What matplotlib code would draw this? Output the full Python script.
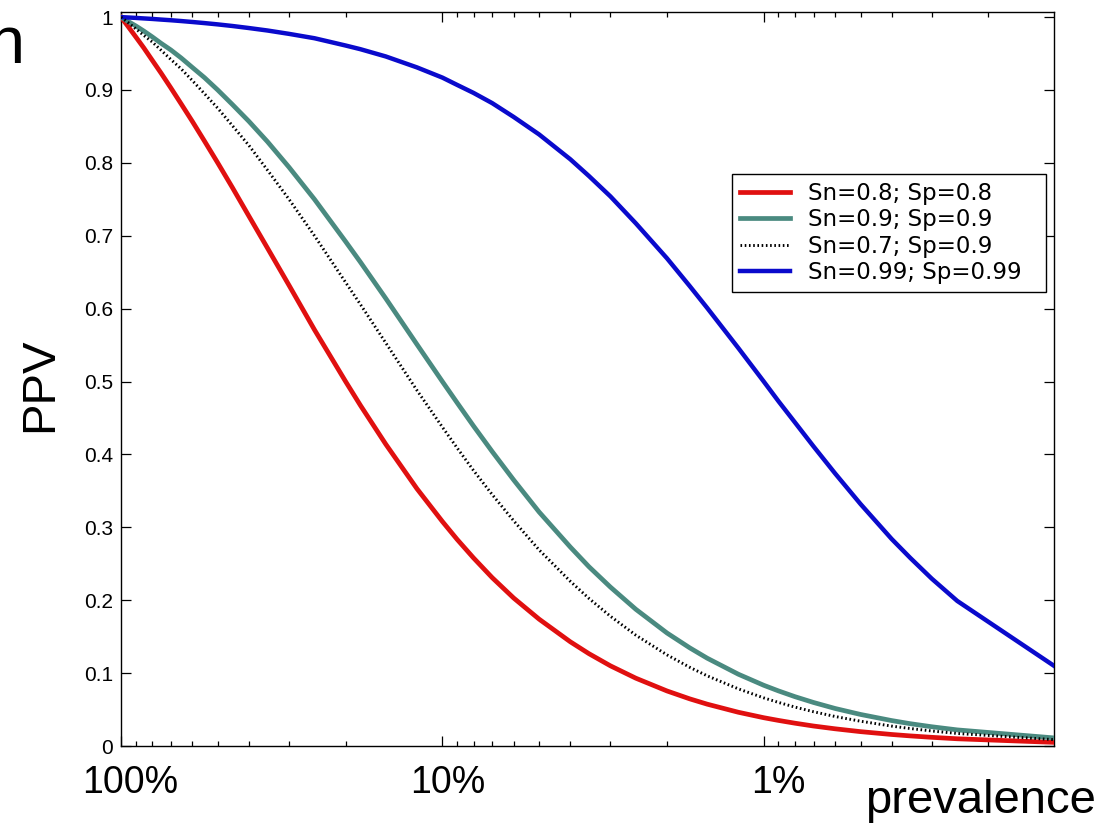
import matplotlib
matplotlib.use("Agg")
import matplotlib.pyplot as plt
from matplotlib.ticker import FixedLocator, FuncFormatter, NullFormatter, LogLocator

# prevalence (fraction) sample points read along the x axis
prevalence = [1.0, 0.95, 0.9, 0.85, 0.8, 0.75, 0.7, 0.65, 0.6, 0.55,
              0.5, 0.45, 0.4, 0.35, 0.3, 0.25, 0.2, 0.18, 0.15, 0.12,
              0.1, 0.09, 0.08, 0.07, 0.06, 0.05, 0.04, 0.035, 0.03, 0.025,
              0.02, 0.017, 0.015, 0.012, 0.01, 0.009, 0.008, 0.007, 0.006, 0.005,
              0.004, 0.0035, 0.003, 0.0025, 0.00125]

ppv_80_80 = [1.0, 0.987, 0.973, 0.958, 0.941, 0.923, 0.903, 0.881, 0.857, 0.830,
             0.800, 0.766, 0.727, 0.683, 0.632, 0.571, 0.500, 0.4675, 0.414, 0.353,
             0.308, 0.2835, 0.258, 0.231, 0.203, 0.174, 0.143, 0.1267, 0.110, 0.093,
             0.0755, 0.0647, 0.0574, 0.0463, 0.0388, 0.0351, 0.0313, 0.0274, 0.0236, 0.0197,
             0.0158, 0.01385, 0.0119, 0.0099, 0.0050]
ppv_90_90 = [1.0, 0.994, 0.988, 0.981, 0.973, 0.964, 0.955, 0.944, 0.931, 0.917,
             0.900, 0.880, 0.857, 0.829, 0.794, 0.750, 0.692, 0.664, 0.614, 0.551,
             0.500, 0.471, 0.439, 0.404, 0.365, 0.321, 0.273, 0.246, 0.218, 0.1875,
             0.155, 0.1347, 0.1205, 0.0985, 0.0833, 0.0756, 0.0677, 0.0597, 0.0515, 0.0433,
             0.0349, 0.0306, 0.0264, 0.0221, 0.0111]
ppv_70_90 = [1.0, 0.9925, 0.984, 0.975, 0.966, 0.9545, 0.942, 0.929, 0.913, 0.895,
             0.875, 0.851, 0.824, 0.790, 0.750, 0.700, 0.636, 0.606, 0.553, 0.488,
             0.4375, 0.409, 0.378, 0.345, 0.309, 0.269, 0.226, 0.2025, 0.178, 0.152,
             0.125, 0.108, 0.0963, 0.0784, 0.066, 0.0598, 0.0534, 0.047, 0.0405, 0.034,
             0.0273, 0.024, 0.0206, 0.0172, 0.0087]
ppv_99_99 = [1.0, 0.99947, 0.9989, 0.9982, 0.9975, 0.9966, 0.9957, 0.9946, 0.9933, 0.9918,
             0.990, 0.9878, 0.985, 0.9816, 0.977, 0.971, 0.961, 0.956, 0.946, 0.931,
             0.917, 0.907, 0.896, 0.882, 0.863, 0.839, 0.805, 0.782, 0.754, 0.717,
             0.669, 0.631, 0.601, 0.546, 0.500, 0.473, 0.444, 0.411, 0.374, 0.332,
             0.284, 0.258, 0.2295, 0.199, 0.110]

labels = ["Sn=0.8; Sp=0.8", "Sn=0.9; Sp=0.9", "Sn=0.7; Sp=0.9", "Sn=0.99; Sp=0.99"]
y_ticks = [0, 0.1, 0.2, 0.3, 0.4, 0.5, 0.6, 0.7, 0.8, 0.9, 1.0]
x_mark_labels = ["100%", "10%", "1%"]

W, H = 1117, 827
fig = plt.figure(figsize=(W / 100, H / 100), dpi=100)
plt.rcParams['font.family'] = ['Liberation Sans', 'DejaVu Sans']

ax = fig.add_axes([121 / W, 1 - 746 / H, (1054 - 121) / W, (746 - 12) / H])

ax.plot(prevalence, ppv_80_80, color='#E01010', lw=3.4, label=labels[0], zorder=3)
ax.plot(prevalence, ppv_90_90, color='#4A8A80', lw=3.4, label=labels[1], zorder=3)
ax.plot(prevalence, ppv_70_90, color='black', lw=2.1, ls=(0, (0.55, 0.9)), label=labels[2], zorder=4)
ax.plot(prevalence, ppv_99_99, color='#0A0ACC', lw=3.2, label=labels[3], zorder=3)

ax.set_xscale('log')
ax.set_xlim(1.0, 0.00125)
ax.set_ylim(0, 1.007)

ax.xaxis.set_major_locator(LogLocator(base=10, numticks=10))
ax.xaxis.set_minor_locator(LogLocator(base=10, subs=[2, 3, 4, 5, 6, 7, 8, 9], numticks=20))
ax.xaxis.set_major_formatter(NullFormatter())
ax.xaxis.set_minor_formatter(NullFormatter())

ax.yaxis.set_major_locator(FixedLocator(y_ticks))
ax.yaxis.set_major_formatter(FuncFormatter(lambda v, p: f"{v:g}"))

ax.tick_params(which='both', direction='in', top=True, right=True, width=0.9, color='black')
ax.tick_params(which='major', length=7)
ax.tick_params(which='minor', length=3.8)
ax.tick_params(axis='y', labelsize=15, pad=5.5)
for sp in ax.spines.values():
    sp.set_linewidth(1.0)

leg = ax.legend(loc='upper left',
                bbox_to_anchor=(732 / W, 1 - 293 / H, 314 / W, 119 / H),
                bbox_transform=fig.transFigure, borderaxespad=0, mode='expand',
                prop={'family': 'DejaVu Sans', 'size': 16.5},
                handlelength=2.2, handletextpad=0.75, labelspacing=0.15,
                borderpad=0.35, fancybox=False, framealpha=1, edgecolor='black')
leg.get_frame().set_linewidth(1.0)

# overlay annotation texts
def ftext(x, y, s, **kw):
    fig.text(x / W, 1 - y / H, s, **kw)

ftext(130, 793, x_mark_labels[0], fontsize=27, ha='center', va='baseline')
ftext(448, 793, x_mark_labels[1], fontsize=27, ha='center', va='baseline')
ftext(778, 793, x_mark_labels[2], fontsize=27, ha='center', va='baseline')
ftext(980, 813, "prevalence", fontsize=34, ha='center', va='baseline')
ftext(40, 385, "PPV", fontsize=34, rotation=90, ha='center', va='center')
ftext(-12.6, 63, "n", fontsize=48, ha='left', va='baseline')

fig.savefig("out.png", dpi=100)
